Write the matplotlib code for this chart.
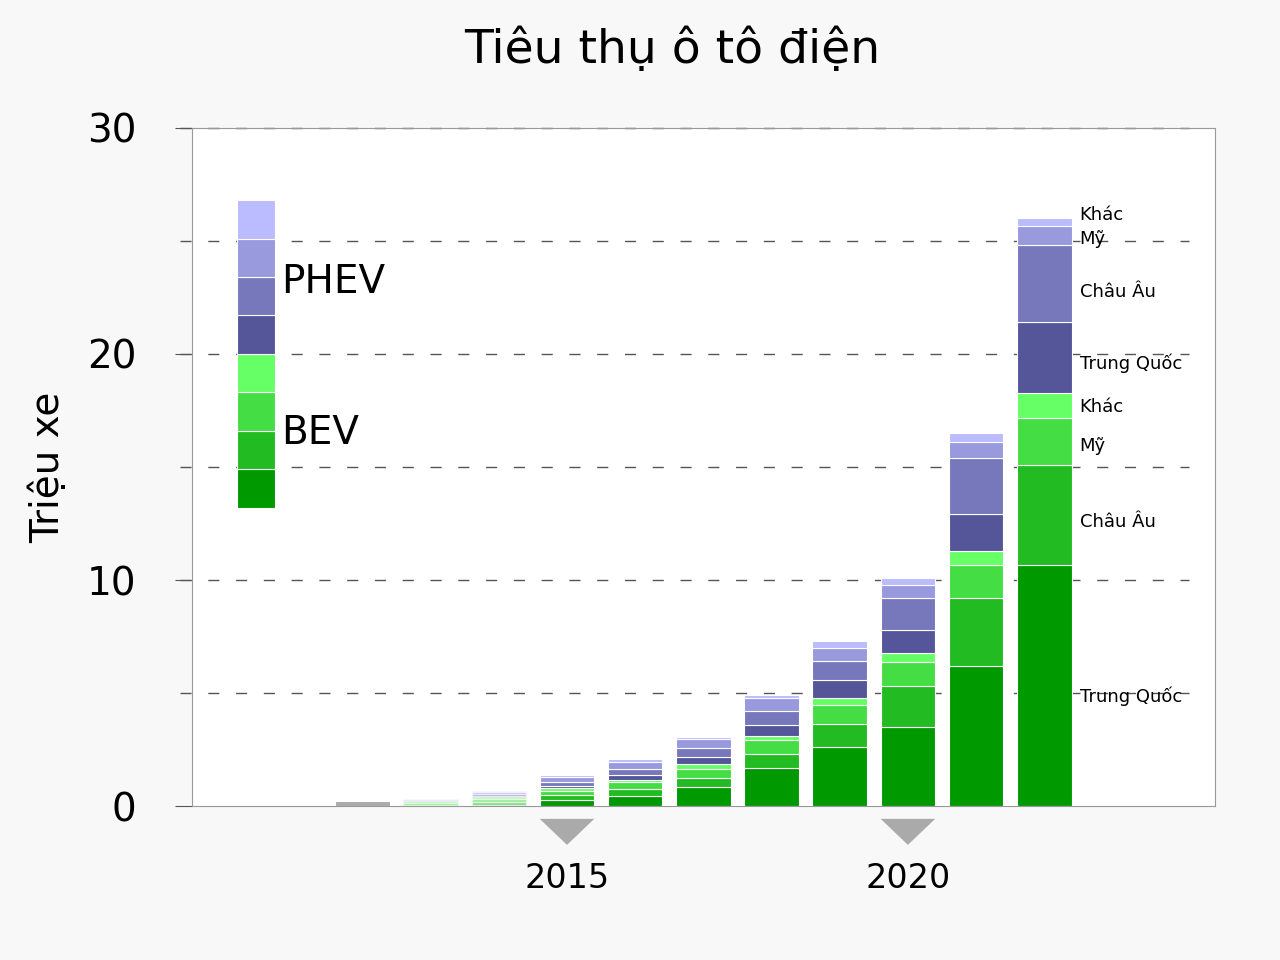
import matplotlib
matplotlib.use("Agg")
import matplotlib.pyplot as plt
from matplotlib.patches import Rectangle, Polygon
import numpy as np

years = [2013, 2014, 2015, 2016, 2017, 2018, 2019, 2020, 2021, 2022]
bev_cn = [0.02, 0.06, 0.29, 0.46, 0.85, 1.68, 2.61, 3.50, 6.19, 10.66]
bev_eu = [0.06, 0.14, 0.21, 0.31, 0.40, 0.62, 1.02, 1.81, 3.00, 4.43]
bev_us = [0.08, 0.12, 0.19, 0.31, 0.40, 0.62, 0.84, 1.06, 1.50, 2.08]
bev_ot = [0.06, 0.08, 0.12, 0.08, 0.22, 0.18, 0.31, 0.40, 0.58, 1.10]
phev_cn = [0.02, 0.06, 0.09, 0.21, 0.30, 0.48, 0.80, 1.02, 1.64, 3.14]
phev_eu = [0.04, 0.08, 0.20, 0.28, 0.41, 0.62, 0.84, 1.41, 2.48, 3.40]
phev_us = [0.04, 0.10, 0.18, 0.31, 0.40, 0.58, 0.57, 0.58, 0.70, 0.84]
phev_ot = [0.02, 0.04, 0.12, 0.12, 0.09, 0.13, 0.31, 0.31, 0.40, 0.35]
early_years = [2011, 2012]
early_total = [0.08, 0.25]
series = [bev_cn, bev_eu, bev_us, bev_ot, phev_cn, phev_eu, phev_us, phev_ot]
colors = ["#009900", "#22bb22", "#44dd44", "#66ff66", "#555599", "#7777bb", "#9999dd", "#bbbbff"]
labels = ["Trung Quốc", "Châu Âu", "Mỹ", "Khác", "Trung Quốc", "Châu Âu", "Mỹ", "Khác"]
label_y = [4.87, 12.57, 15.93, 17.65, 19.6, 22.74, 25.09, 26.15]

fig = plt.figure(figsize=(12.8, 9.6), dpi=100, facecolor="#f8f8f8")
ax = fig.add_axes([0.15, 0.16, 0.799, 0.707])
ax.set_facecolor("white")
ax.set_xlim(2009.5, 2024.5)
ax.set_ylim(0, 30)

for y in [5, 10, 15, 20, 25, 30]:
    ax.plot([-0.012, 0.975], [y, y], transform=ax.get_yaxis_transform(), color="#555555",
            lw=1, dashes=(8, 12), clip_on=False, zorder=1)

ax.bar(early_years, early_total, width=0.8, color="#aaaaaa", edgecolor="white", lw=0.8, zorder=2)
bottom = np.zeros(len(years))
for s, c in zip(series, colors):
    alphas = [0.5 if y < 2015 else 1.0 for y in years]
    for i, (yr, v) in enumerate(zip(years, s)):
        ax.bar(yr, v, bottom=bottom[i], width=0.8, color=c, alpha=alphas[i],
               edgecolor="white", lw=0.8, zorder=2)
    bottom += np.array(s)

for lab, ly in zip(labels, label_y):
    ax.text(2022.52, ly, lab, fontsize=13, va="center", ha="left", zorder=3)

# legend stack
for k, c in enumerate(colors):
    ax.add_patch(Rectangle((2010.16, 13.2 + k * 1.7), 0.56, 1.7, facecolor=c,
                           edgecolor="white", lw=0.8, zorder=3))
ax.text(2010.8, 23.2, "PHEV", fontsize=28, va="center")
ax.text(2010.8, 16.5, "BEV", fontsize=28, va="center")

for sp in ax.spines.values():
    sp.set_color("#999999")
ax.set_xticks([])
ax.set_yticks([0, 10, 20, 30])
ax.set_yticklabels(["0", "10", "20", "30"], fontsize=28)
ax.tick_params(axis="y", length=12, color="#555555", pad=28)
ax.set_ylabel("Triệu xe", fontsize=28, labelpad=14)

for yr in [2015, 2020]:
    ax.add_patch(Polygon([[yr - 0.4, -0.55], [yr + 0.4, -0.55], [yr, -1.7]], closed=True,
                         facecolor="#aaaaaa", edgecolor="none", clip_on=False))
    ax.text(yr, -3.2, str(yr), fontsize=24, ha="center", va="center")

fig.text(0.525, 0.948, "Tiêu thụ ô tô điện", fontsize=34, ha="center", va="center")
fig.savefig("out.png", dpi=100, facecolor=fig.get_facecolor())
